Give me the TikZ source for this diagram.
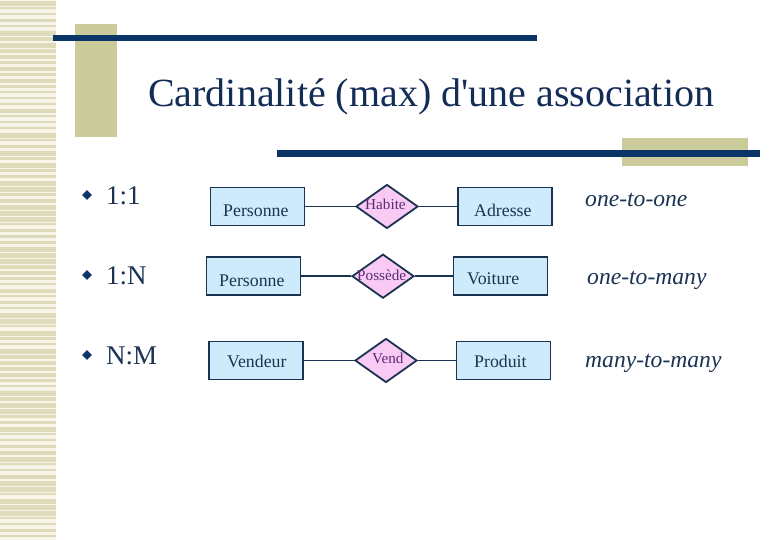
\documentclass[tikz,border=0pt]{standalone}
\usepackage{fontspec}
\setmainfont{Liberation Serif}
\usetikzlibrary{shapes.geometric}
\definecolor{navy}{HTML}{0B3566}
\definecolor{titlecol}{HTML}{142D57}
\definecolor{olive}{HTML}{CBCB9B}
\definecolor{ink}{HTML}{1B3352}
\definecolor{boxfill}{HTML}{CDEBFB}
\definecolor{diafill}{HTML}{F9CBF4}
\definecolor{diatext}{HTML}{5A2C78}
\definecolor{stripebg}{HTML}{F7F5E8}
\definecolor{stripe}{HTML}{DEDBBB}
\tikzset{
  entity/.style={draw=ink, line width=1.8pt, fill=boxfill, minimum width=94pt, minimum height=38pt, inner sep=0pt},
  relation/.style={diamond, draw=ink, line width=1.8pt, fill=diafill, minimum width=62pt, minimum height=44pt, inner sep=0pt},
  etext/.style={anchor=base west, inner sep=0pt, text=ink, font=\fontsize{17.8}{19}\selectfont},
  rtext/.style={anchor=base west, inner sep=0pt, text=diatext, font=\fontsize{15.2}{17}\selectfont},
  btext/.style={anchor=base west, inner sep=0pt, text=ink, font=\fontsize{27}{29}\selectfont},
  itext/.style={anchor=base west, inner sep=0pt, text=ink, font=\fontsize{23.6}{25}\selectfont\itshape},
  bullet/.style={diamond, fill=navy, minimum width=10pt, minimum height=10pt, inner sep=0pt},
  link/.style={draw=ink, line width=1.8pt}
}
\begin{document}
\begin{tikzpicture}[x=1pt,y=-1pt]
\useasboundingbox (0,0) rectangle (780,540);
\fill[white] (0,0) rectangle (780,540);
% left stripes
\fill[stripebg] (0,0) rectangle (56,540);
\pgfmathsetseed{7}
\foreach \i in {0,...,89}{
  \pgfmathsetmacro{\h}{1.5+4*rnd}
  \pgfmathsetmacro{\yy}{\i*6+1}
  \fill[stripe] (0,\yy) rectangle (56,\yy+\h);
}
% decorations
\fill[olive] (75,24) rectangle (117,137);
\fill[navy] (53,35) rectangle (537,41.5);
\fill[olive] (622,138) rectangle (748,166);
\fill[navy] (277,150.5) rectangle (760,157);
% title
\node[anchor=base west, inner sep=0pt, text=titlecol, font=\fontsize{40}{42}\selectfont] (title) at (148,107) {Cardinalité (max) d\textquotesingle une association};
% bullets
\node[bullet] (b1) at (87,195) {};
\node[bullet] (b2) at (87,275) {};
\node[bullet] (b3) at (87,355) {};
\node[btext] (t1) at (106,205) {1:1};
\node[btext] (t2) at (106,285) {1:N};
\node[btext] (t3) at (106,365) {N:M};
% row 1
\node[entity] (p1) at (257.5,206.5) {};
\node[relation] (r1) at (387,206.5) {};
\node[entity] (a1) at (505,206.5) {};
\draw[link] (p1.east) -- (r1.west);
\draw[link] (r1.east) -- (a1.west);
\node[etext] (p1t) at (223,217) {Personne};
\node[rtext] (r1t) at (365,210) {Habite};
\node[etext] (a1t) at (474,217) {Adresse};
% row 2
\node[entity] (p2) at (253.5,276.2) {};
\node[relation] (r2) at (383,276.2) {};
\node[entity] (v2) at (500.5,276.2) {};
\draw[link] (p2.east) -- (r2.west);
\draw[link] (r2.east) -- (v2.west);
\node[etext] (p2t) at (219,287) {Personne};
\node[rtext] (r2t) at (357,281) {Possède};
\node[etext] (v2t) at (467,285) {Voiture};
% row 3
\node[entity] (p3) at (256,360.5) {};
\node[relation] (r3) at (386,360.5) {};
\node[entity] (v3) at (503.5,360.5) {};
\draw[link] (p3.east) -- (r3.west);
\draw[link] (r3.east) -- (v3.west);
\node[etext] (p3t) at (227,367) {Vendeur};
\node[rtext] (r3t) at (372,363) {Vend};
\node[etext] (v3t) at (474,367) {Produit};
% right labels
\node[itext] (o1) at (585,207) {one-to-one};
\node[itext] (o2) at (587,285) {one-to-many};
\node[itext] (o3) at (585,368) {many-to-many};
\end{tikzpicture}
\end{document}
